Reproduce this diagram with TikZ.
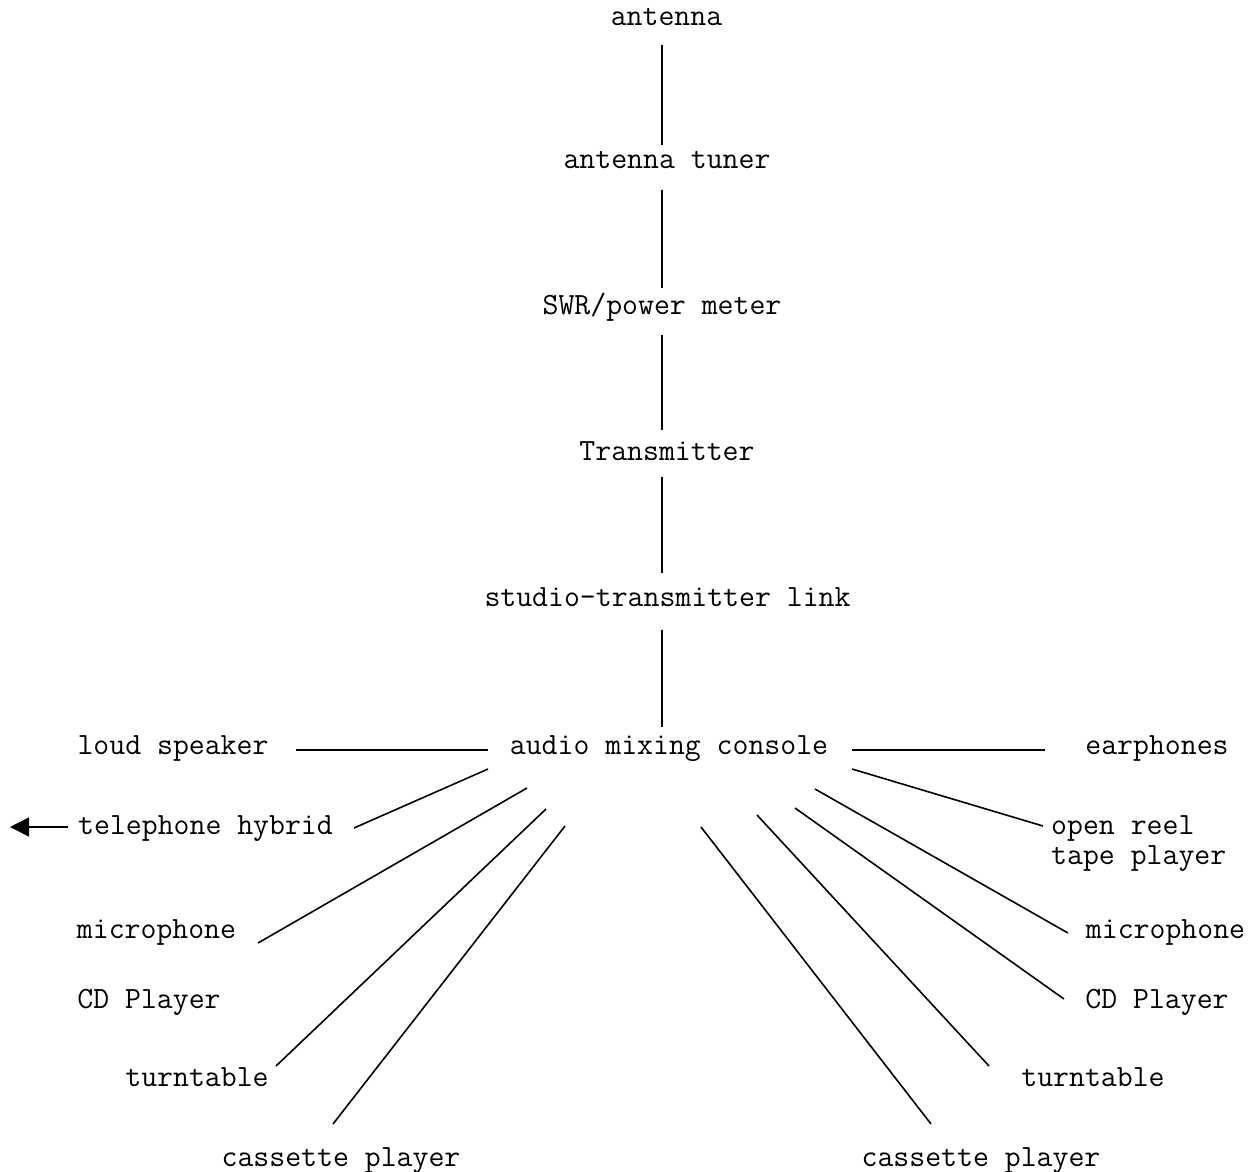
\documentclass[tikz,border=0pt]{standalone}
\usetikzlibrary{arrows.meta}
\begin{document}
\begin{tikzpicture}[x=1pt,y=-1pt,
  lbl/.style={anchor=base,inner sep=0pt,font=\ttfamily\fontsize{30.9pt}{30pt}\selectfont},
  lblw/.style={anchor=base west,inner sep=0pt,align=left,font=\ttfamily\fontsize{30.9pt}{30pt}\selectfont},
  wire/.style={line width=1.6pt}]
\useasboundingbox (0,0) rectangle (1257,1171);
% nodes
\node[lbl] (ant) at (666.5,25) {antenna};
\node[lbl] (tun) at (667,168) {antenna tuner};
\node[lbl] (swr) at (662,314) {SWR/power meter};
\node[lbl] (tx) at (667,460) {Transmitter};
\node[lbl] (stl) at (667.5,606) {studio-transmitter link};
\node[lbl] (amc) at (669,754) {audio mixing console};
\node[lbl] (ls) at (173,754) {loud speaker};
\node[lbl] (ear) at (1157,754) {earphones};
\node[lbl] (tel) at (205.5,834) {telephone hybrid};
\node[lblw] (reel) at (1051,864) {open reel\\tape player};
\node[lbl] (micL) at (156.5,938) {microphone};
\node[lbl] (cdL) at (149,1008) {CD Player};
\node[lbl] (ttL) at (197,1086) {turntable};
\node[lbl] (casL) at (341,1166) {cassette player};
\node[lbl] (micR) at (1165.5,938) {microphone};
\node[lbl] (cdR) at (1157,1008) {CD Player};
\node[lbl] (ttR) at (1093,1086) {turntable};
\node[lbl] (casR) at (981,1166) {cassette player};
% connector end points
\coordinate (a1) at (662,45);  \coordinate (a2) at (662,145);
\coordinate (b1) at (662,190); \coordinate (b2) at (662,288);
\coordinate (c1) at (662,335); \coordinate (c2) at (662,430);
\coordinate (d1) at (662,477); \coordinate (d2) at (662,573);
\coordinate (e1) at (662,630); \coordinate (e2) at (662,727);
\coordinate (ls1) at (296,750); \coordinate (ls2) at (488,750);
\coordinate (ea1) at (852,750); \coordinate (ea2) at (1045,750);
\coordinate (te1) at (488,769); \coordinate (te2) at (354,828);
\coordinate (ml1) at (527,788); \coordinate (ml2) at (258,943);
\coordinate (tl1) at (546,809); \coordinate (tl2) at (276,1066);
\coordinate (cl1) at (565,826); \coordinate (cl2) at (333,1124);
\coordinate (or1) at (852,769); \coordinate (or2) at (1043,826);
\coordinate (mr1) at (815,789); \coordinate (mr2) at (1068,933);
\coordinate (dr1) at (795,808); \coordinate (dr2) at (1064,999);
\coordinate (tr1) at (757,815); \coordinate (tr2) at (989,1066);
\coordinate (cr1) at (701,827); \coordinate (cr2) at (931,1124);
\coordinate (ar1) at (68,827); \coordinate (ar2) at (10,827);
% connectors
\draw[wire] (a1) -- (a2);
\draw[wire] (b1) -- (b2);
\draw[wire] (c1) -- (c2);
\draw[wire] (d1) -- (d2);
\draw[wire] (e1) -- (e2);
\draw[wire] (ls1) -- (ls2);
\draw[wire] (ea1) -- (ea2);
\draw[wire] (te1) -- (te2);
\draw[wire] (ml1) -- (ml2);
\draw[wire] (tl1) -- (tl2);
\draw[wire] (cl1) -- (cl2);
\draw[wire] (or1) -- (or2);
\draw[wire] (mr1) -- (mr2);
\draw[wire] (dr1) -- (dr2);
\draw[wire] (tr1) -- (tr2);
\draw[wire] (cr1) -- (cr2);
\draw[wire,-{Triangle[length=19pt,width=19pt]}] (ar1) -- (ar2);
\end{tikzpicture}
\end{document}
